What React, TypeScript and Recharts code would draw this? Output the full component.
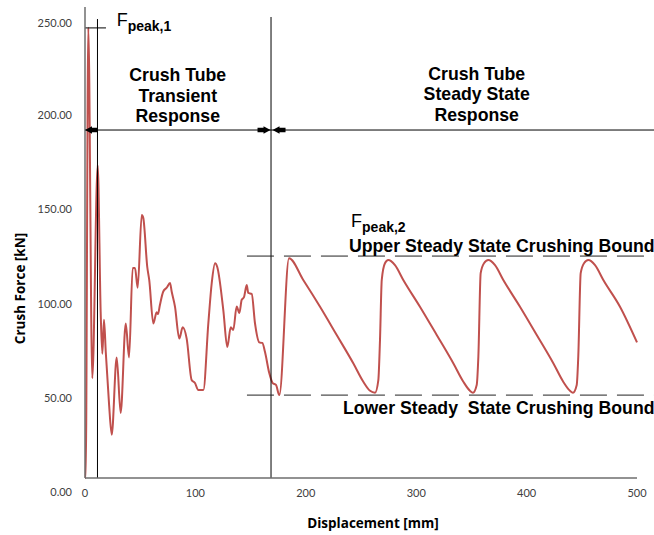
import React from 'react';
import { LineChart, Line, XAxis, YAxis, ReferenceLine, ReferenceDot } from 'recharts';

// Displacement [mm]
const displacement = [
  0, 0.6, 3.0, 6.6, 11.5, 14.2, 15.7, 17.2, 18.8, 21.7, 24.2, 28.7, 32.3, 36.9, 39.9,
  43.2, 45.3, 47.7, 51.4, 52.8, 56.4, 58.2, 61.9, 64.9, 66.1, 67.9, 70.9, 74.0, 77.0,
  78.5, 81.5, 85.4, 88.5, 92.1, 96.6, 99.6, 102.6, 107.2, 111.7, 114.8, 117.8, 119.8,
  125.3, 128.9, 132.0, 134.3, 137.4, 139.8, 141.9, 144.0, 146.5, 147.9, 151.0, 154.0,
  157.9, 160.6, 163.0, 166.9, 170.0, 173.0, 176.0,
  184.8, 197.7, 212.9, 228.0, 243.0, 252.1, 258.2, 262.7, 265.7, 267.2, 268.8, 271.7,
  274.7, 280.8, 288.3, 303.4, 318.6, 333.6, 342.7, 348.7, 351.4, 354.8, 356.3, 358.4,
  361.4, 365.3, 371.4, 378.9, 394.0, 409.2, 424.2, 433.2, 439.3, 442.0, 445.4, 446.8,
  449.0, 452.0, 455.9, 462.0, 469.5, 484.6, 500.0,
];

// Crush Force [kN]
const force = [
  0, 0, 239, 53, 166, 88, 66, 84, 67, 40, 23, 64, 34.5, 82, 64,
  111.5, 111.5, 101, 139.6, 138, 112, 105, 82, 88, 87, 92, 99, 101, 103.5,
  99, 91, 74, 80, 74, 52, 50.4, 46.7, 46.7, 82, 103.5, 114, 112,
  89, 69.5, 80, 78.6, 91, 87.6, 94.5, 96, 102.4, 98.2, 97.7, 82,
  72, 71.7, 67, 55.7, 50.4, 49.4, 44,
  116.6, 105.1, 90.9, 75.9, 60.9, 51.1, 46.3, 45.3, 52, 73.2, 105.1, 114,
  115.7, 113, 105.1, 90.9, 75.9, 60.9, 51.1, 46.3, 45.3, 49.4, 64.4, 108.7,
  114, 115.7, 113, 105.1, 90.9, 75.9, 60.9, 51.1, 46.3, 45.3, 49.4, 64.4,
  108.7, 114, 115.7, 113, 105.1, 90.9, 72,
];

const xTicks = [0, 100, 200, 300, 400, 500];
const yTicks = [0, 50, 100, 150, 200, 250];

// annotation levels (data units)
const peak1Level = 238.9;
const peak1X = 11.3;
const transientEnd = 168.5;
const arrowLevel = 184.7;
const upperBound = 117.8;
const lowerBound = 44;
const boundStart = 146.7;
const lineEnd = 515.4;

const transientTitle = ['Crush Tube', 'Transient', 'Response'];
const steadyTitle = ['Crush Tube', 'Steady State', 'Response'];
const upperText = 'Upper Steady State Crushing Bound';
const lowerText = 'Lower Steady  State Crushing Bound';

const data = displacement.map((d, i) => ({ x: d, f: force[i] }));

const ANN_FONT = '"Liberation Sans", Arial, sans-serif';
const AXIS_FONT = 'Lato, "Open Sans", sans-serif';
const TITLE_FONT = '"Open Sans", Lato, sans-serif';
const ANN_SIZE = 17.7;

const XTick = (props: any) => {
  const { x, y, payload } = props;
  return (
    <text x={x} y={y + 19} textAnchor="middle" fontFamily={AXIS_FONT} fontSize={11} fill="#404040">
      {payload.value}
    </text>
  );
};

const YTick = (props: any) => {
  const { x, y, payload } = props;
  return (
    <text x={x - 13} y={y + 18} textAnchor="end" fontFamily={AXIS_FONT} fontSize={11} fill="#404040">
      {Number(payload.value).toFixed(2)}
    </text>
  );
};

const YTitle = (props: any) => {
  const vb = props.viewBox || { x: 0, y: 7, width: 85, height: 471 };
  const cx = vb.x + 20;
  const cy = vb.y + vb.height / 2 + 46;
  return (
    <text
      x={cx}
      y={cy}
      transform={`rotate(-90 ${cx} ${cy})`}
      textAnchor="middle"
      dominantBaseline="central"
      fontFamily={TITLE_FONT}
      fontWeight="bold"
      fontSize={13.5}
      fill="#000"
    >
      Crush Force [kN]
    </text>
  );
};

const XTitle = (props: any) => {
  const vb = props.viewBox || { x: 85, y: 478, width: 552, height: 57 };
  return (
    <text
      x={vb.x + vb.width / 2 + 12}
      y={vb.y + 50}
      textAnchor="middle"
      fontFamily={TITLE_FONT}
      fontWeight="bold"
      fontSize={13.5}
      fill="#000"
    >
      Displacement [mm]
    </text>
  );
};

const arrowLeft = (dx: number) => (p: any) => {
  const cx = p.cx + dx;
  const cy = p.cy;
  return (
    <path
      d={`M${cx},${cy} L${cx + 7},${cy - 3.8} L${cx + 7},${cy - 2.3} L${cx + 13},${cy - 2.3} L${cx + 13},${cy + 2.3} L${cx + 7},${cy + 2.3} L${cx + 7},${cy + 3.8} Z`}
      fill="#000"
    />
  );
};

const arrowRight = (dx: number) => (p: any) => {
  const cx = p.cx + dx;
  const cy = p.cy;
  return (
    <path
      d={`M${cx},${cy} L${cx - 7},${cy - 3.8} L${cx - 7},${cy - 2.3} L${cx - 13},${cy - 2.3} L${cx - 13},${cy + 2.3} L${cx - 7},${cy + 2.3} L${cx - 7},${cy + 3.8} Z`}
      fill="#000"
    />
  );
};

const blockText = (lines: string[]) => (p: any) => (
  <text x={p.cx} y={p.cy} textAnchor="middle" fontFamily={ANN_FONT} fontWeight="bold" fontSize={ANN_SIZE} fill="#000">
    {lines.map((l, i) => (
      <tspan key={i} x={p.cx} dy={i === 0 ? 0 : 20.5}>
        {l}
      </tspan>
    ))}
  </text>
);

const lineText = (t: string) => (p: any) => (
  <text
    x={p.cx}
    y={p.cy}
    fontFamily={ANN_FONT}
    fontWeight="bold"
    fontSize={ANN_SIZE}
    fill="#000"
    style={{ whiteSpace: 'pre' }}
    xmlSpace="preserve"
  >
    {t}
  </text>
);

const peakText = (sub: string) => (p: any) => (
  <text x={p.cx} y={p.cy} fontFamily={ANN_FONT} fontSize={18} fill="#000">
    F
    <tspan fontSize={14} fontWeight="bold" dy={5}>
      {sub}
    </tspan>
  </text>
);

export default function App() {
  return (
    <div style={{ position: 'absolute', left: 0, top: 0, width: 654, height: 535, background: '#fff' }}>
      <LineChart width={654} height={535} data={data} margin={{ top: 7, right: 17, left: 0, bottom: 0 }}>
        <XAxis
          dataKey="x"
          type="number"
          domain={[0, 500]}
          ticks={xTicks}
          tick={<XTick />}
          tickLine={false}
          tickSize={0}
          tickMargin={0}
          height={57}
          axisLine={{ stroke: '#6e6e6e', strokeWidth: 1.5 }}
          label={<XTitle />}
        />
        <YAxis
          type="number"
          domain={[0, 250]}
          ticks={yTicks}
          tick={<YTick />}
          tickLine={false}
          tickSize={0}
          tickMargin={0}
          width={85}
          axisLine={{ stroke: '#6e6e6e', strokeWidth: 1.5 }}
          label={<YTitle />}
        />
        <Line
          dataKey="f"
          type="monotone"
          stroke="#c0504d"
          strokeWidth={2}
          dot={false}
          activeDot={false}
          isAnimationActive={false}
        />
        <ReferenceLine segment={[{ x: peak1X, y: 0 }, { x: peak1X, y: 243.6 }]} stroke="#000" strokeWidth={1} ifOverflow="visible" />
        <ReferenceLine segment={[{ x: transientEnd, y: 0 }, { x: transientEnd, y: 244.7 }]} stroke="#000" strokeWidth={1} ifOverflow="visible" />
        <ReferenceLine segment={[{ x: 0, y: peak1Level }, { x: 19, y: peak1Level }]} stroke="#000" strokeWidth={1} ifOverflow="visible" />
        <ReferenceLine segment={[{ x: 0, y: arrowLevel }, { x: lineEnd, y: arrowLevel }]} stroke="#000" strokeWidth={1} ifOverflow="visible" />
        <ReferenceLine segment={[{ x: boundStart, y: upperBound }, { x: lineEnd, y: upperBound }]} stroke="#222" strokeWidth={1} strokeDasharray="27 10" ifOverflow="visible" />
        <ReferenceLine segment={[{ x: boundStart, y: lowerBound }, { x: lineEnd, y: lowerBound }]} stroke="#222" strokeWidth={1} strokeDasharray="27 10" ifOverflow="visible" />
        <ReferenceDot x={0} y={arrowLevel} r={0} ifOverflow="visible" shape={arrowLeft(0)} />
        <ReferenceDot x={transientEnd} y={arrowLevel} r={0} ifOverflow="visible" shape={arrowRight(-0.5)} />
        <ReferenceDot x={transientEnd} y={arrowLevel} r={0} ifOverflow="visible" shape={arrowLeft(1.5)} />
        <ReferenceDot x={84} y={210.7} r={0} ifOverflow="visible" shape={blockText(transientTitle)} />
        <ReferenceDot x={354.8} y={211.3} r={0} ifOverflow="visible" shape={blockText(steadyTitle)} />
        <ReferenceDot x={239.1} y={120} r={0} ifOverflow="visible" shape={lineText(upperText)} />
        <ReferenceDot x={233.7} y={34} r={0} ifOverflow="visible" shape={lineText(lowerText)} />
        <ReferenceDot x={28.7} y={239.9} r={0} ifOverflow="visible" shape={peakText('peak,1')} />
        <ReferenceDot x={241} y={133.2} r={0} ifOverflow="visible" shape={peakText('peak,2')} />
      </LineChart>
    </div>
  );
}
